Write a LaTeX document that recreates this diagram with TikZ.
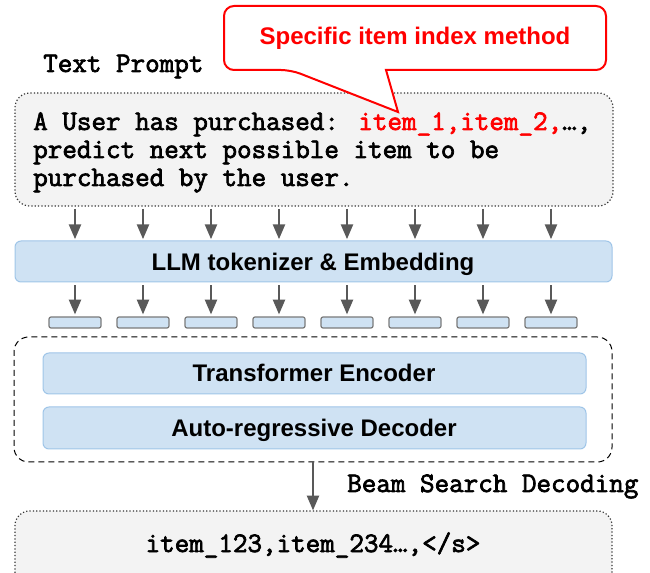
\documentclass[tikz,border=0pt]{standalone}
\usepackage{fontspec}
\setmainfont{Liberation Sans}
\newfontfamily\monofam[FakeBold=2.5]{Latin Modern Mono}
\usetikzlibrary{arrows.meta,fit}
\definecolor{boxgray}{HTML}{F3F3F3}
\definecolor{boxblue}{HTML}{CFE2F3}
\definecolor{blueline}{HTML}{9FC5E8}
\definecolor{arrgray}{HTML}{595959}
\definecolor{dotgray}{HTML}{333333}
\definecolor{calred}{HTML}{FF0000}
\tikzset{
  dotbox/.style={draw=dotgray, fill=boxgray, line width=0.9pt, dash pattern=on 0.9pt off 1.6pt, rounded corners=11pt, inner sep=0pt},
  bluebox/.style={draw=blueline, fill=boxblue, line width=0.75pt, rounded corners=4.5pt, inner sep=0pt},
  tokbox/.style={draw=arrgray!80, fill=boxblue, line width=0.9pt, rounded corners=1.5pt, minimum width=39pt, minimum height=8.25pt, inner sep=0pt},
  dashbox/.style={draw=black, line width=0.75pt, dash pattern=on 4.5pt off 3pt, rounded corners=11pt, inner sep=0pt},
  arr/.style={draw=arrgray, line width=1.5pt, -{Triangle[width=9pt,length=11pt]}},
  sanslbl/.style={font=\fontsize{18}{21}\selectfont\bfseries, inner sep=0pt, anchor=base},
  monolbl/.style={font=\monofam\fontsize{21.2}{21}\selectfont, inner sep=0pt},
}
\begin{document}
\begin{tikzpicture}[x=0.75pt,y=-0.75pt]
\clip (0,0) rectangle (650,573);
\useasboundingbox (0,0) rectangle (650,573);
% text prompt box
\node[dotbox, fit={(15,93)(613,206)}] (prompt) {};
\node[monolbl, anchor=base west] (promptlbl) at (43,72) {Text Prompt};
\node[monolbl, anchor=base west] (p1) at (33,130) {A User has purchased: \textcolor{calred}{item\_1,item\_2,}…,};
\node[monolbl, anchor=base west] (p2) at (33,158) {predict next possible item to be};
\node[monolbl, anchor=base west] (p3) at (33,186) {purchased by the user.};
% callout
\coordinate (tip) at (398,112);
\draw[calred, line width=1.5pt, fill=white, rounded corners=7.5pt]
  (386,70) -- (606,70) -- (606,6) -- (224,6) -- (224,70) -- (291,70) [sharp corners] -- (tip) -- cycle;
\node[font=\fontsize{18}{21}\selectfont\bfseries, text=calred, inner sep=0pt, anchor=base] (callout) at (415,45) {Specific item index method};
% LLM tokenizer
\node[bluebox, fit={(15,241)(612,282)}] (llm) {};
\node[sanslbl] (llmlbl) at (313,271) {LLM tokenizer \& Embedding};
% token boxes
\foreach \i/\x in {1/75,2/143,3/211,4/279,5/347,6/415,7/483,8/551} {
  \node[tokbox] (e\i) at (\x,322.5) {};
  \draw[arr] ([yshift=-1.5pt]prompt.south -| e\i) -- ([yshift=1pt]llm.north -| e\i);
  \draw[arr] ([yshift=-2pt]llm.south -| e\i) -- ([yshift=1.5pt]e\i.north);
}
% model
\node[dashbox, fit={(14,337)(612,462)}] (model) {};
\node[bluebox, fit={(43,353)(586,394)}] (enc) {};
\node[sanslbl] (enclbl) at (314,382) {Transformer Encoder};
\node[bluebox, fit={(43,407)(586,449)}] (dec) {};
\node[sanslbl] (declbl) at (314,437) {Auto-regressive Decoder};
% output
\node[dotbox, fit={(15,511)(612,600)}] (out) {};
\node[monolbl, anchor=base] (outtxt) at (313,552) {item\_123,item\_234…,</s>};
\draw[arr] (model.south -| outtxt) -- (out.north -| outtxt);
\node[monolbl, anchor=base west] (beam) at (347,492) {Beam Search Decoding};
\end{tikzpicture}
\end{document}
